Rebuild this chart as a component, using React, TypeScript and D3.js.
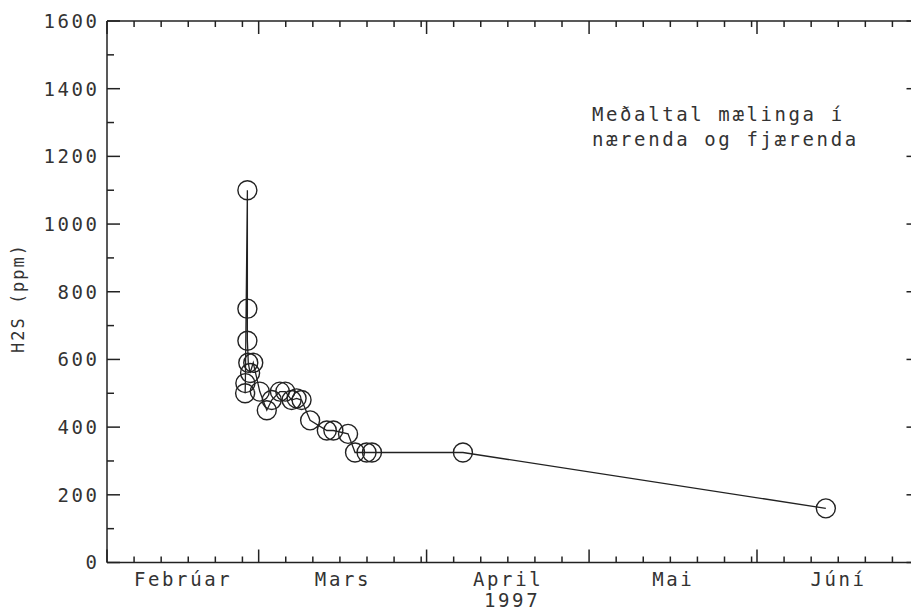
import React from 'react';
import * as d3 from 'd3';

const sampleTimes = [
    '1997-02-26T12', '1997-02-26T13', '1997-02-26T22', '1997-02-26T22', '1997-02-26T22',
    '1997-02-27T02', '1997-02-27T10', '1997-02-28T00', '1997-03-01T05', '1997-03-02T12',
    '1997-03-03T10', '1997-03-04T22', '1997-03-05T22', '1997-03-07T02', '1997-03-08T00',
    '1997-03-08T22', '1997-03-10T12', '1997-03-13T14', '1997-03-14T19', '1997-03-17T12',
    '1997-03-18T19', '1997-03-20T22', '1997-03-21T22', '1997-04-07T17', '1997-06-13T17',
];
const h2sValues = [
    500, 530, 1100, 750, 655,
    590, 560, 590, 505, 450,
    480, 505, 505, 480, 485,
    480, 420, 390, 390, 380,
    325, 325, 325, 325, 160,
];

const monthLabels = ['Febrúar', 'Mars', 'April', 'Mai', 'Júní'];
const yMajorTicks = [0, 200, 400, 600, 800, 1000, 1200, 1400, 1600];
const yMinorTicks = [100, 300, 500, 700, 900, 1100, 1300, 1500];
const minorDays = [6, 11, 16, 21, 26, 31];
const yearLabel = '1997';
const yTitle = 'H2S  (ppm)';
const noteLines = ['Meðaltal mælinga í', 'nærenda og fjærenda'];

const W = 911;
const H = 611;
const left = 107;
const right = 919.5;
const top = 21;
const bottom = 562.5;

const FONT = '"DejaVu Sans Mono", monospace';
const INK = '#222';
const TEXT_INK = '#333';

const parse = d3.utcParse('%Y-%m-%dT%H');
const points = sampleTimes.map((t, i) => ({ date: parse(t) as Date, value: h2sValues[i] }));

const start = new Date(Date.UTC(1997, 1, 1));
const end = new Date(Date.UTC(1997, 6, 1));

export default function App() {
    const x = d3.scaleUtc().domain([start, end]).range([left, right]);
    const y = d3.scaleLinear().domain([0, 1600]).range([bottom, top]);

    const monthStarts = d3.utcMonth.range(start, d3.utcDay.offset(end, 1));
    const minorDates = d3.utcDay.range(start, end).filter(d => minorDays.includes(d.getUTCDate()));

    const line = d3.line<{ date: Date; value: number }>()
        .x(d => x(d.date))
        .y(d => y(d.value));

    const ls = 2.6;

    return (
        <svg width={W} height={H} style={{ position: 'absolute', left: 0, top: 0, background: '#fff' }}>
            <g stroke={INK} fill="none" strokeWidth={1.5}>
                <line x1={left} x2={right} y1={top} y2={top} />
                <line x1={left} x2={right} y1={bottom} y2={bottom} />
                <line x1={left} x2={left} y1={top} y2={bottom} />
                <line x1={right} x2={right} y1={top} y2={bottom} />

                {yMajorTicks.map(v => (
                    <g key={'ym' + v}>
                        <line x1={left} x2={left + 13} y1={y(v)} y2={y(v)} />
                        <line x1={right} x2={right - 13} y1={y(v)} y2={y(v)} />
                    </g>
                ))}
                {yMinorTicks.map(v => (
                    <g key={'yn' + v}>
                        <line x1={left} x2={left + 7} y1={y(v)} y2={y(v)} />
                        <line x1={right} x2={right - 7} y1={y(v)} y2={y(v)} />
                    </g>
                ))}
                {monthStarts.map(d => (
                    <g key={'xm' + d.getTime()}>
                        <line x1={x(d)} x2={x(d)} y1={bottom} y2={bottom - 13} />
                        <line x1={x(d)} x2={x(d)} y1={top} y2={top + 13} />
                    </g>
                ))}
                {minorDates.map(d => (
                    <g key={'xn' + d.getTime()}>
                        <line x1={x(d)} x2={x(d)} y1={bottom} y2={bottom - 6} />
                        <line x1={x(d)} x2={x(d)} y1={top} y2={top + 6} />
                    </g>
                ))}
            </g>

            <g fontFamily={FONT} fontSize={19} fill={TEXT_INK} style={{ letterSpacing: ls + 'px' }}>
                {yMajorTicks.map(v => (
                    <text key={'yl' + v} x={97 + ls} y={y(v)} dy="0.36em" textAnchor="end">{v}</text>
                ))}
                {monthLabels.map((m, i) => {
                    const a = monthStarts[i];
                    const b = monthStarts[i + 1];
                    const cx = (x(a) + x(b)) / 2;
                    return (
                        <text key={m} x={cx + ls / 2 - 1} y={585.5} textAnchor="middle">{m}</text>
                    );
                })}
                <text x={(x(monthStarts[2]) + x(monthStarts[3])) / 2 + ls / 2 + 3} y={607} textAnchor="middle">{yearLabel}</text>
                {noteLines.map((t, i) => (
                    <text key={t} x={592} y={120.5 + i * 25.5}>{t}</text>
                ))}
            </g>

            <text
                transform="translate(24, 299) rotate(-90)"
                textAnchor="middle"
                fontFamily={FONT}
                fontSize={17}
                fill={TEXT_INK}
                style={{ letterSpacing: '2px' }}
                dx={1}
            >{yTitle}</text>

            <path d={line(points) || ''} fill="none" stroke={INK} strokeWidth={1.3} />
            <g fill="none" stroke={INK} strokeWidth={1.4}>
                {points.map((p, i) => (
                    <circle key={i} cx={x(p.date)} cy={y(p.value)} r={9.5} />
                ))}
            </g>
        </svg>
    );
}
